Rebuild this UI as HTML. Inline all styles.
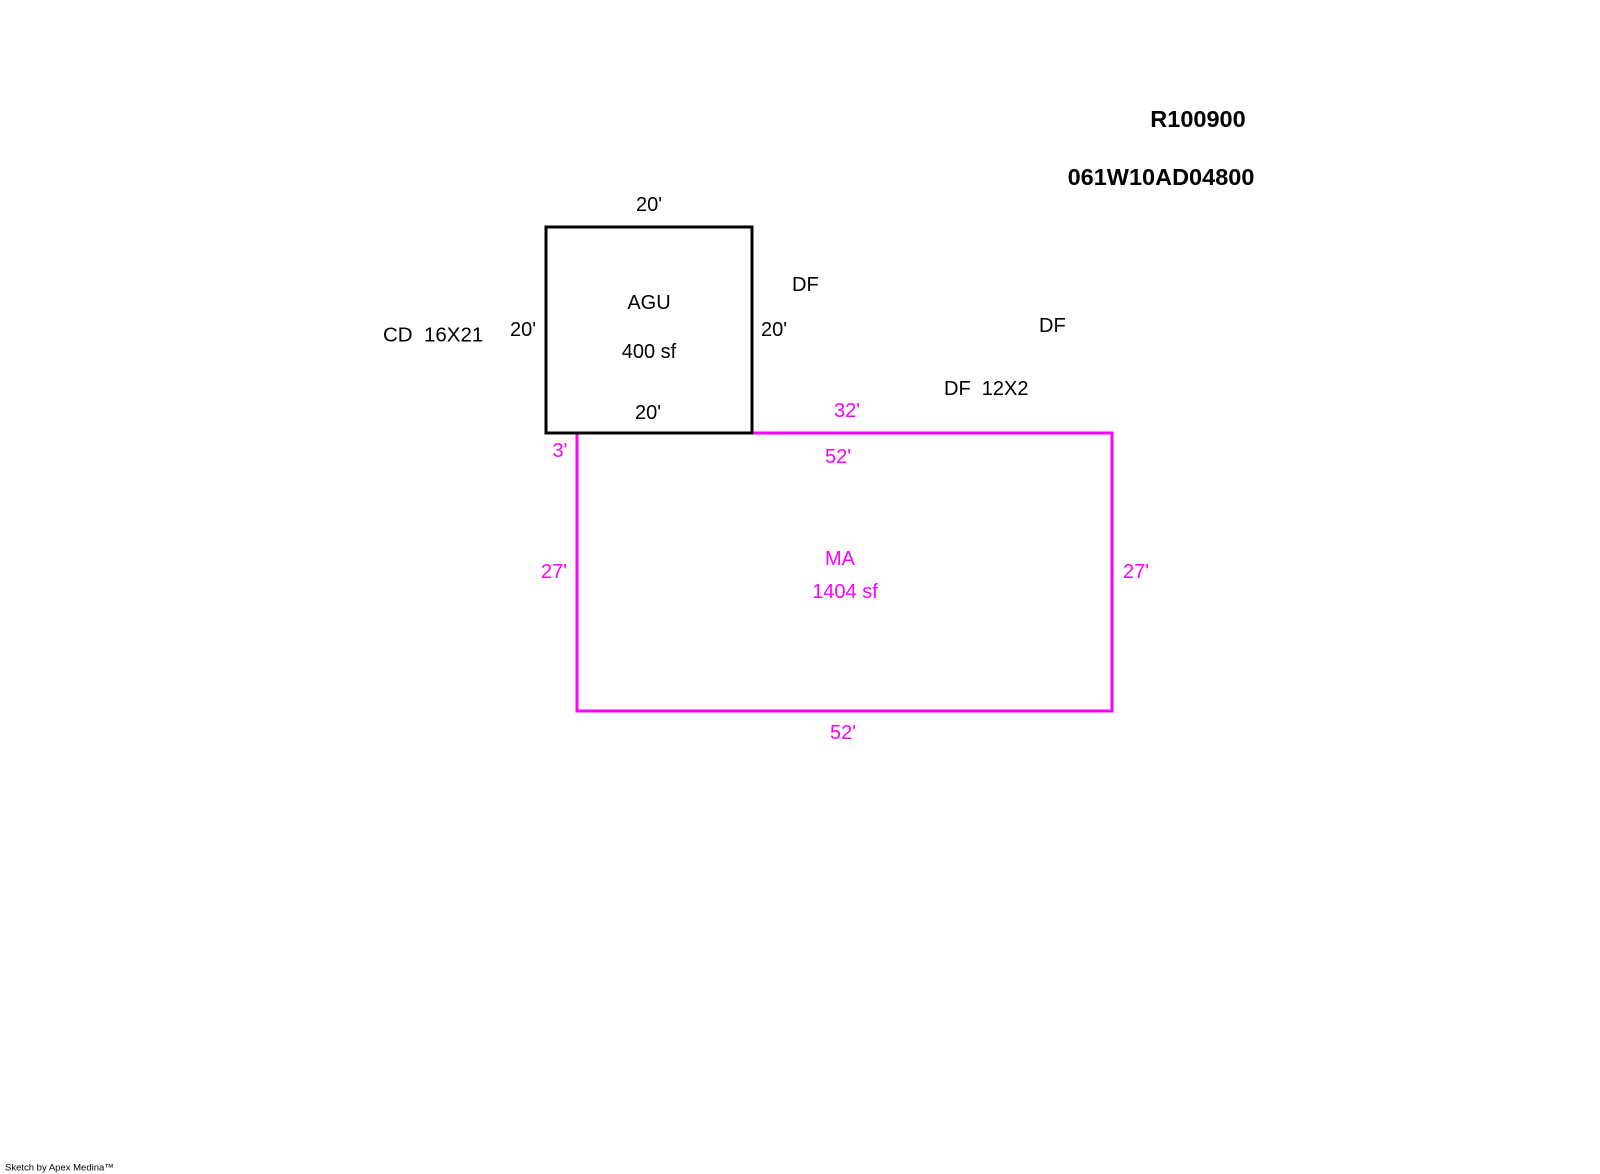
<!DOCTYPE html>
<html><head><meta charset="utf-8"><style>
html,body{margin:0;padding:0;background:#fff;}
svg{display:block;}
text{font-family:"Liberation Sans",Arial,sans-serif;font-size:20px;dominant-baseline:central;}
.m{fill:#ff00ff;}
.c{text-anchor:middle;}
</style></head><body>
<svg width="1600" height="1174" viewBox="0 0 1600 1174" xmlns="http://www.w3.org/2000/svg">
<rect x="0" y="0" width="1600" height="1174" fill="#fff"/>
<polyline points="752,433 1112,433 1112,711 577,711 577,433" fill="none" stroke="#ff00ff" stroke-width="3"/>
<rect x="546" y="227" width="206" height="206" fill="none" stroke="#000" stroke-width="3"/>
<text x="1198" y="119" class="c" style="font-weight:bold;font-size:23.5px">R100900</text>
<text x="1161" y="177" class="c" style="font-weight:bold;font-size:23.5px">061W10AD04800</text>
<text x="649" y="205" class="c">20'</text>
<text x="649" y="303" class="c">AGU</text>
<text x="649" y="352" class="c">400 sf</text>
<text x="648" y="413" class="c">20'</text>
<text x="523" y="330" class="c">20'</text>
<text x="774" y="330" class="c">20'</text>
<text x="383" y="335" style="font-size:20.5px">CD&#160;&#160;16X21</text>
<text x="792" y="285">DF</text>
<text x="1039" y="326">DF</text>
<text x="944" y="389">DF&#160;&#160;12X2</text>
<text x="847" y="411" class="c m">32'</text>
<text x="838" y="457" class="c m">52'</text>
<text x="560" y="451" class="c m">3'</text>
<text x="554" y="572" class="c m">27'</text>
<text x="1136" y="572" class="c m">27'</text>
<text x="840" y="559" class="c m">MA</text>
<text x="845" y="592" class="c m">1404 sf</text>
<text x="843" y="733" class="c m">52'</text>
<text x="5" y="1168" style="font-size:9.5px">Sketch by Apex Medina™</text>
</svg>
</body></html>
